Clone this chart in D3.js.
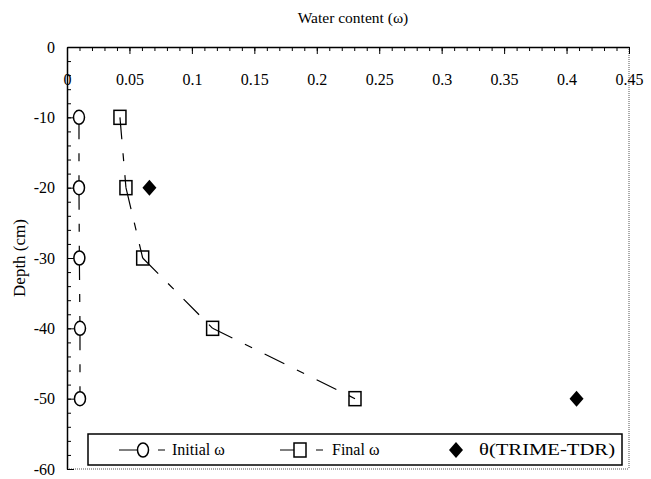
<!DOCTYPE html>
<html>
<head>
<meta charset="utf-8">
<script src="https://cdn.jsdelivr.net/npm/d3@7"></script>
<style>
  body { margin: 0; background: #fff; }
  svg { display: block; font-family: "Liberation Serif", "Times New Roman", serif; }
</style>
</head>
<body>
<svg id="chart" width="651" height="479"></svg>
<script>
// data
const depths = [-10, -20, -30, -40, -50];
const initialW = [0.0096, 0.0096, 0.0099, 0.0104, 0.0104];
const finalW = [0.0424, 0.0472, 0.0606, 0.1166, 0.2306];
const tdrDepths = [-20, -50];
const tdrTheta = [0.066, 0.408];
const xTicks = [0, 0.05, 0.1, 0.15, 0.2, 0.25, 0.3, 0.35, 0.4, 0.45];
const yTicks = [0, -10, -20, -30, -40, -50, -60];

const svg = d3.select("#chart");
const plotL = 67, plotR = 629, plotT = 47, plotB = 469;

const x = d3.scaleLinear().domain([0, 0.45]).range([plotL, plotR]);
const y = d3.scaleLinear().domain([0, -60]).range([plotT, plotB]);

// frame: right and bottom are dotted
svg.append("line").attr("x1", plotR).attr("x2", plotR).attr("y1", plotT).attr("y2", plotB)
  .attr("stroke", "#555").attr("stroke-dasharray", "1,1");
svg.append("line").attr("x1", plotL).attr("x2", plotR).attr("y1", plotB).attr("y2", plotB)
  .attr("stroke", "#555").attr("stroke-dasharray", "1,1");

// top axis, labels sit under the line
const xMinor = d3.range(0, 0.4501, 0.01);
svg.append("g").attr("transform", `translate(0,${plotT})`)
  .call(d3.axisBottom(x).tickValues(xMinor).tickSize(4).tickSizeOuter(0).tickFormat(""))
  .call(g => g.select(".domain").remove());
const gx = svg.append("g").attr("transform", `translate(0,${plotT})`)
  .call(d3.axisBottom(x).tickValues(xTicks).tickSize(7).tickSizeOuter(0).tickPadding(20)
    .tickFormat(d => d === 0 ? "0" : String(+d.toFixed(2))));
gx.select(".domain").attr("stroke-width", 1.5);
gx.selectAll("text").attr("font-size", 16).attr("fill", "#000").attr("font-family", "Liberation Serif");

// left axis, ticks point inward
const yMinor = d3.range(0, -60.01, -2);
svg.append("g").attr("transform", `translate(${plotL},0)`)
  .call(d3.axisLeft(y).tickValues(yMinor).tickSize(-4).tickSizeOuter(0).tickFormat(""))
  .call(g => g.select(".domain").remove());
const gy = svg.append("g").attr("transform", `translate(${plotL},0)`)
  .call(d3.axisLeft(y).tickValues(yTicks).tickSize(-7).tickSizeOuter(0).tickPadding(12)
    .tickFormat(d => d === 0 ? "0" : "-" + Math.abs(d)));
gy.select(".domain").attr("stroke-width", 1.5);
gy.selectAll("text").attr("font-size", 16).attr("fill", "#000").attr("font-family", "Liberation Serif");

// titles
svg.append("text").attr("x", 353).attr("y", 23).attr("text-anchor", "middle")
  .attr("font-size", 15.5).text("Water content (ω)");
svg.append("text").attr("transform", `translate(25,${(plotT + plotB) / 2}) rotate(-90)`)
  .attr("text-anchor", "middle").attr("font-size", 17).text("Depth (cm)");

const dash = "22,14,8,14";

// connecting lines, one segment per pair so the pattern restarts at each marker
function segments(xs) {
  for (let i = 0; i < depths.length - 1; i++) {
    svg.append("line")
      .attr("x1", x(xs[i])).attr("y1", y(depths[i]))
      .attr("x2", x(xs[i + 1])).attr("y2", y(depths[i + 1]))
      .attr("stroke", "#000").attr("stroke-width", 1.2)
      .attr("stroke-dasharray", dash);
  }
}
segments(initialW);
segments(finalW);

const diamond = (cx, cy) => `M${cx},${cy - 8}L${cx + 7},${cy}L${cx},${cy + 8}L${cx - 7},${cy}Z`;

svg.append("g").selectAll("ellipse").data(depths).join("ellipse")
  .attr("cx", (d, i) => x(initialW[i])).attr("cy", d => y(d))
  .attr("rx", 5.5).attr("ry", 7)
  .attr("fill", "#fff").attr("stroke", "#000").attr("stroke-width", 1.5);

svg.append("g").selectAll("rect").data(depths).join("rect")
  .attr("x", (d, i) => x(finalW[i]) - 6).attr("y", d => y(d) - 7)
  .attr("width", 12).attr("height", 14)
  .attr("fill", "none").attr("stroke", "#000").attr("stroke-width", 1.5);

svg.append("g").selectAll("path").data(tdrDepths).join("path")
  .attr("d", (d, i) => diamond(x(tdrTheta[i]), y(d)))
  .attr("fill", "#000");

// legend
const lg = svg.append("g");
const ly = 450;
lg.append("rect").attr("x", 88).attr("y", 434).attr("width", 534).attr("height", 31)
  .attr("fill", "#fff").attr("stroke", "#000").attr("stroke-width", 1.5);

lg.append("line").attr("x1", 119).attr("x2", 143).attr("y1", ly).attr("y2", ly).attr("stroke", "#000");
lg.append("ellipse").attr("cx", 143).attr("cy", ly).attr("rx", 5.5).attr("ry", 7)
  .attr("fill", "#fff").attr("stroke", "#000").attr("stroke-width", 1.5);
lg.append("line").attr("x1", 158).attr("x2", 165).attr("y1", ly).attr("y2", ly).attr("stroke", "#000");
lg.append("text").attr("x", 172).attr("y", ly + 5).attr("font-size", 16).text("Initial ω");

lg.append("line").attr("x1", 280).attr("x2", 300).attr("y1", ly).attr("y2", ly).attr("stroke", "#000");
lg.append("rect").attr("x", 294).attr("y", ly - 7).attr("width", 12).attr("height", 14)
  .attr("fill", "#fff").attr("stroke", "#000").attr("stroke-width", 1.5);
lg.append("line").attr("x1", 316).attr("x2", 323).attr("y1", ly).attr("y2", ly).attr("stroke", "#000");
lg.append("text").attr("x", 332).attr("y", ly + 5).attr("font-size", 16).text("Final ω");

lg.append("path").attr("d", diamond(456, ly)).attr("fill", "#000");
lg.append("text").attr("x", 479).attr("y", ly + 5).attr("font-size", 16)
  .attr("textLength", 136).attr("lengthAdjust", "spacingAndGlyphs").text("θ(TRIME-TDR)");
</script>
</body>
</html>
